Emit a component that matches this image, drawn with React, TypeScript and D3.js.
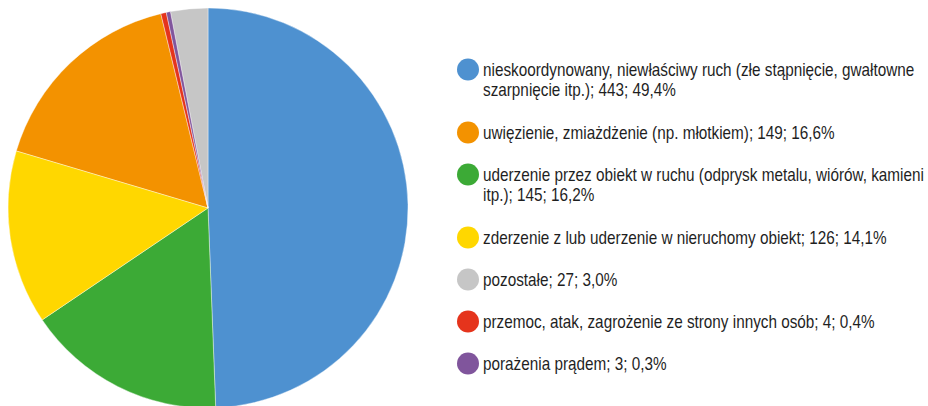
import { useEffect, useRef } from "react";
import * as d3 from "d3";

// legend order
const labels = [
  "nieskoordynowany, niewłaściwy ruch (złe stąpnięcie, gwałtowne szarpnięcie itp.)",
  "uwięzienie, zmiażdżenie (np. młotkiem)",
  "uderzenie przez obiekt w ruchu (odprysk metalu, wiórów, kamieni itp.)",
  "zderzenie z lub uderzenie w nieruchomy obiekt",
  "pozostałe",
  "przemoc, atak, zagrożenie ze strony innych osób",
  "porażenia prądem",
];
const values = [443, 149, 145, 126, 27, 4, 3];
const percents = ["49,4%", "16,6%", "16,2%", "14,1%", "3,0%", "0,4%", "0,3%"];
const colors = ["#4e91d0", "#f39200", "#3caa36", "#ffd700", "#c6c6c6", "#e5341c", "#80559c"];
// order of slices clockwise from 12 o'clock (indexes into the arrays above)
const sliceOrder = [0, 2, 3, 1, 5, 6, 4];

type Item = { label: string; value: number; pct: string; color: string; order: number };

export default function App() {
  const ref = useRef<SVGSVGElement>(null);

  useEffect(() => {
    if (!ref.current) return;
    const items: Item[] = labels.map((label, i) => ({
      label,
      value: values[i],
      pct: percents[i],
      color: colors[i],
      order: sliceOrder.indexOf(i),
    }));

    const svg = d3.select(ref.current);
    svg.selectAll("*").remove();

    const pie = d3
      .pie<Item>()
      .value((d) => d.value)
      .sort((a, b) => a.order - b.order);
    const arc = d3.arc<d3.PieArcDatum<Item>>().innerRadius(0).outerRadius(200);

    svg
      .append("g")
      .attr("transform", "translate(208, 208)")
      .selectAll("path")
      .data(pie(items))
      .join("path")
      .attr("d", arc)
      .attr("fill", (d) => d.data.color)
      .attr("stroke", "#fff")
      .attr("stroke-width", 0.4);

    // Arial Narrow look: Liberation Sans squeezed horizontally
    const sx = 0.85;
    const maxWidth = 446;
    const lineH = 21;
    const legend = svg.append("g").attr("transform", "translate(468, 0)");
    let y = 69.5;
    items.forEach((d) => {
      const g = legend.append("g").attr("transform", `translate(0, ${y})`);
      g.append("circle").attr("r", 11).attr("fill", d.color);
      const text = g
        .append("text")
        .attr("transform", `translate(15, 0) scale(${sx}, 1)`)
        .attr("font-family", "'Liberation Sans', Arial, sans-serif")
        .attr("font-size", 18)
        .attr("fill", "#1f1f1f");
      const words = `${d.label}; ${d.value}; ${d.pct}`.split(" ");
      let line: string[] = [];
      let lineNo = 0;
      let tspan = text.append("tspan").attr("x", 0).attr("y", 6);
      for (const w of words) {
        line.push(w);
        tspan.text(line.join(" "));
        if ((tspan.node() as SVGTSpanElement).getComputedTextLength() * sx > maxWidth && line.length > 1) {
          line.pop();
          tspan.text(line.join(" "));
          line = [w];
          lineNo++;
          tspan = text
            .append("tspan")
            .attr("x", 0)
            .attr("y", 6 + lineNo * lineH)
            .text(w);
        }
      }
      y += 42 + lineNo * lineH;
    });
  }, []);

  return (
    <svg
      ref={ref}
      width={928}
      height={406}
      style={{ position: "absolute", left: 0, top: 0, background: "#fff" }}
    />
  );
}
